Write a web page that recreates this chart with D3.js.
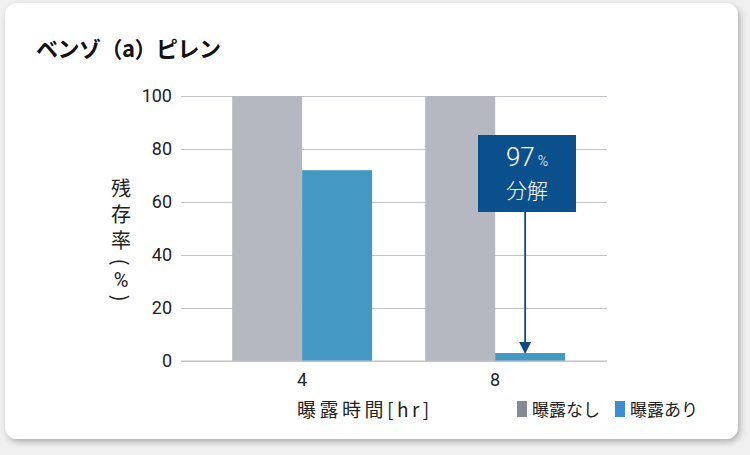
<!DOCTYPE html>
<html>
<head>
<meta charset="utf-8">
<script src="https://cdn.jsdelivr.net/npm/d3@7"></script>
<style>
  html, body { margin: 0; padding: 0; background: #f0f0f0; }
  svg { display: block; }
</style>
</head>
<body>
<svg id="chart" width="750" height="455"></svg>
<script>
// data
const hours = ['4', '8'];
const noExposure = [100, 100];
const exposure = [72, 3];
const seriesNames = ['曝露なし', '曝露あり'];
const yTicks = [0, 20, 40, 60, 80, 100];
const noteValue = '97';
const noteText = '分解';

const W = 750, H = 455;
const barColor = ['#b5b7c1', '#4499c4'];
const legendColor = ['#868a98', '#3b8fd0'];
const jp = '"Noto Sans CJK JP", "Noto Sans", sans-serif';
const num = 'Roboto, "Noto Sans", sans-serif';

const svg = d3.select('#chart');

// card with shadow
const defs = svg.append('defs');
const f = defs.append('filter').attr('id', 'shadow')
  .attr('x', '-5%').attr('y', '-5%').attr('width', '110%').attr('height', '115%');
f.append('feDropShadow').attr('dx', 2).attr('dy', 3).attr('stdDeviation', 3)
  .attr('flood-color', '#000').attr('flood-opacity', 0.28);

svg.append('rect').attr('width', W).attr('height', H).attr('fill', '#f0f0f0');
svg.append('rect')
  .attr('x', 5).attr('y', 3).attr('width', 733).attr('height', 436)
  .attr('rx', 12).attr('fill', '#fff').attr('filter', 'url(#shadow)');

// title
svg.append('text')
  .attr('x', 36).attr('y', 57)
  .attr('font-family', jp).attr('font-weight', 'bold').attr('font-size', 22)
  .attr('fill', '#111').attr('letter-spacing', -0.5)
  .text('ベンゾ（a）ピレン');

// scales
const plot = {left: 181, right: 607, top: 96, bottom: 361};
const y = d3.scaleLinear().domain([0, 100]).range([plot.bottom, plot.top]);
const x = d3.scaleBand().domain(hours).range([plot.left, plot.right])
  .paddingInner(0.275).paddingOuter(0.241).align(0.55);
const xs = d3.scaleBand().domain([0, 1]).range([0, x.bandwidth()]);

// grid
const yAxis = d3.axisLeft(y).tickValues(yTicks)
  .tickSize(-(plot.right - plot.left)).tickPadding(9);
const gy = svg.append('g').attr('transform', `translate(${plot.left},0)`).call(yAxis);
gy.select('.domain').remove();
gy.selectAll('.tick line').attr('stroke', '#c4c4c8').attr('stroke-width', 1.2);
gy.selectAll('.tick text')
  .attr('font-family', num).attr('font-size', 18).attr('fill', '#222')
  .attr('x', -9);

// bars
const groups = svg.append('g').selectAll('g')
  .data(hours)
  .join('g')
  .attr('transform', d => `translate(${x(d)},0)`);

groups.selectAll('rect')
  .data((d, i) => [noExposure[i], exposure[i]])
  .join('rect')
  .attr('x', (d, j) => xs(j))
  .attr('width', xs.bandwidth())
  .attr('y', d => y(d))
  .attr('height', d => y(0) - y(d))
  .attr('fill', (d, j) => barColor[j]);

// baseline on top of bars
svg.append('line')
  .attr('x1', plot.left).attr('x2', plot.right)
  .attr('y1', y(0)).attr('y2', y(0))
  .attr('stroke', '#c4c4c8').attr('stroke-width', 1.2);

// x axis labels
const xAxis = d3.axisBottom(x).tickSize(0).tickPadding(12);
const gx = svg.append('g').attr('transform', `translate(0,${plot.bottom})`).call(xAxis);
gx.select('.domain').remove();
gx.selectAll('.tick text')
  .attr('font-family', num).attr('font-size', 18).attr('fill', '#222');

// axis titles
svg.append('text')
  .attr('x', 297).attr('y', 417)
  .attr('font-family', jp).attr('font-size', 19).attr('fill', '#222')
  .attr('letter-spacing', 3.5)
  .text('曝露時間[hr]');

// vertical y title, char by char (parens turned sideways)
const yTitle = [
  {c: '残', y: 187, rot: false},
  {c: '存', y: 213, rot: false},
  {c: '率', y: 239, rot: false},
  {c: '(', y: 262, rot: true},
  {c: '%', y: 280, rot: false},
  {c: ')', y: 298, rot: true}
];
svg.append('g').selectAll('text')
  .data(yTitle)
  .join('text')
  .attr('x', 0).attr('y', 0)
  .attr('transform', d => `translate(121,${d.y}) rotate(${d.rot ? 90 : 0})`)
  .attr('text-anchor', 'middle')
  .attr('dominant-baseline', 'central')
  .attr('font-family', d => d.c === '%' ? num : jp)
  .attr('font-size', 20).attr('fill', '#222')
  .text(d => d.c);

// annotation box + arrow
const arrowX = x('8') + xs(1) + xs.bandwidth() / 2 - 5;
svg.append('line')
  .attr('x1', arrowX).attr('x2', arrowX)
  .attr('y1', 212).attr('y2', y(exposure[1]) - 4)
  .attr('stroke', '#0d4a85').attr('stroke-width', 1.8);
svg.append('path')
  .attr('d', `M${arrowX - 6},${y(exposure[1]) - 11} L${arrowX + 6},${y(exposure[1]) - 11} L${arrowX},${y(exposure[1]) + 1} Z`)
  .attr('fill', '#0d4a85');

svg.append('rect')
  .attr('x', 478).attr('y', 135).attr('width', 98).attr('height', 77)
  .attr('fill', '#0a508d');

const note = svg.append('text')
  .attr('x', 527).attr('y', 166).attr('text-anchor', 'middle')
  .attr('fill', '#fff').attr('font-family', num).attr('font-weight', 300);
note.append('tspan').attr('font-size', 26).text(noteValue);
note.append('tspan').attr('font-size', 14).attr('dx', 3).text('%');

svg.append('text')
  .attr('x', 527).attr('y', 198).attr('text-anchor', 'middle')
  .attr('fill', '#fff').attr('font-family', jp).attr('font-weight', 300).attr('font-size', 21)
  .text(noteText);

// legend
const legend = svg.append('g').selectAll('g')
  .data(seriesNames)
  .join('g')
  .attr('transform', (d, i) => `translate(${517 + i * 98},401)`);
legend.append('rect')
  .attr('width', 10).attr('height', 16)
  .attr('fill', (d, i) => legendColor[i]);
legend.append('text')
  .attr('x', 15).attr('y', 15)
  .attr('font-family', jp).attr('font-size', 17).attr('fill', '#222')
  .text(d => d);
</script>
</body>
</html>
